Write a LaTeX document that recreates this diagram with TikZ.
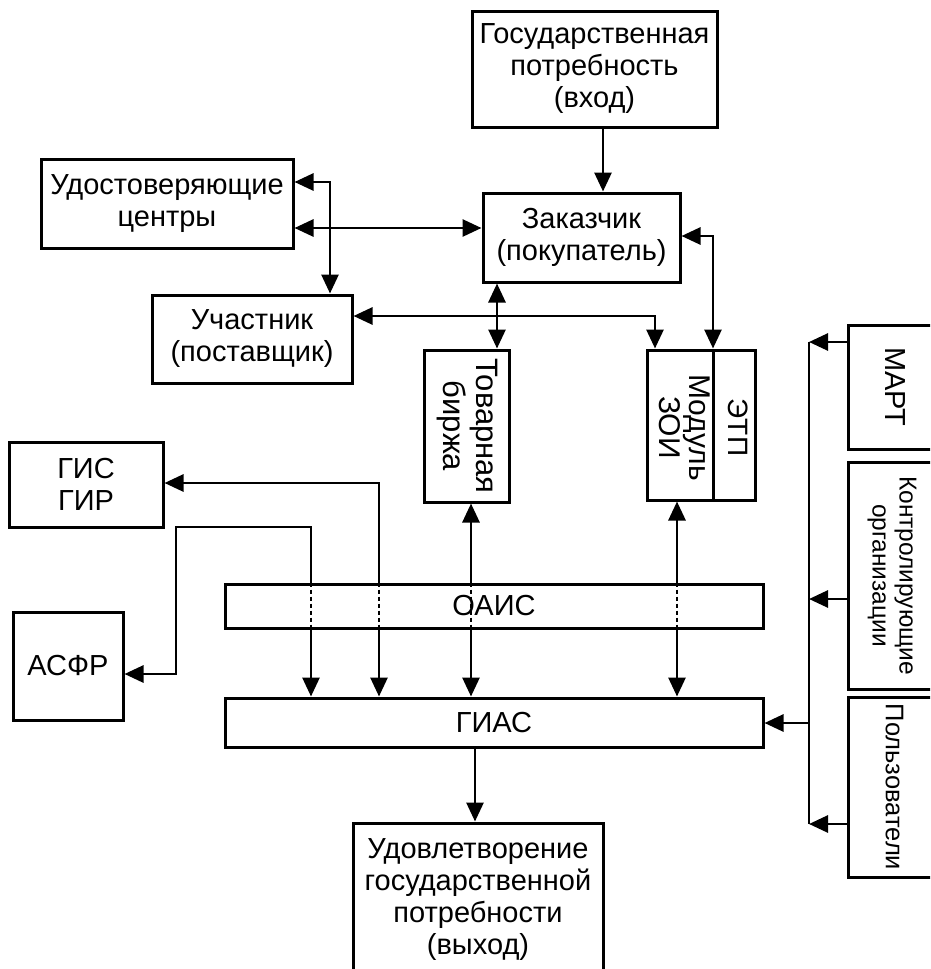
\documentclass[tikz,border=0pt]{standalone}
\usepackage{fontspec}
\setmainfont{Liberation Sans}
\usepackage{graphicx}
\usetikzlibrary{arrows.meta}
\newcommand\vlab[1]{\rotatebox{-90}{\begin{tabular}{@{}c@{}}#1\end{tabular}}}
\begin{document}
\begin{tikzpicture}[x=1pt,y=-1pt,
  >={Triangle[length=19pt,width=17pt]},
  box/.style={draw, line width=3pt, inner sep=1pt, align=center, font=\fontsize{29}{32}\selectfont},
  conn/.style={line width=2.8pt},
  dots/.style={line width=2.8pt, dash pattern=on 4pt off 3pt}]
\path[use as bounding box] (0,0) rectangle (930,969);
\clip (0,0) rectangle (930,969);
% boxes
\node[box, minimum width=245pt, minimum height=116pt] (gos) at (594.5,69) {Государственная\\потребность\\(вход)};
\node[box, minimum width=197pt, minimum height=89pt] (zak) at (581.5,237.5) {Заказчик\\(покупатель)};
\node[box, minimum width=252pt, minimum height=89pt] (uc) at (167,203.5) {Удостоверяющие\\центры};
\node[box, minimum width=200pt, minimum height=88pt] (uch) at (252,339) {Участник\\(поставщик)};
\node[box, minimum width=85pt, minimum height=152pt, font=\fontsize{31}{33}\selectfont] (birzha) at (466.5,426) {\vlab{Товарная\\биржа}};
\node[box, minimum width=66pt, minimum height=150pt, font=\fontsize{30}{30}\selectfont] (zoi) at (680,425) {\raisebox{-5pt}{\vlab{Модуль\\ЗОИ}}};
\node[box, minimum width=42pt, minimum height=150pt, font=\fontsize{28}{30}\selectfont] (etp) at (734,425) {\raisebox{-5pt}{\vlab{ЭТП}}};
\node[box, minimum width=154pt, minimum height=85pt] (gis) at (86,484.5) {ГИС\\ГИР};
\node[box, minimum width=110pt, minimum height=108pt] (asfr) at (68,666) {АСФР};
\node[box, minimum width=538pt, minimum height=44pt] (oais) at (494,606) {ОАИС};
\node[box, minimum width=538pt, minimum height=49pt] (gias) at (494,722.5) {ГИАС};
\node[box, minimum width=250pt, minimum height=154pt] (out) at (478,900) {Удовлетворение\\государственной\\потребности\\(выход)};
\node[box, minimum width=87pt, minimum height=124pt] (mart) at (891.5,387) {\vlab{МАРТ}};
\node[box, minimum width=87pt, minimum height=227pt, font=\fontsize{24.5}{27}\selectfont] (kontr) at (891.5,575.5) {\vlab{Контролирующие\\организации}};
\node[box, minimum width=87pt, minimum height=180pt, font=\fontsize{25.5}{28}\selectfont] (polz) at (891.5,787) {\vlab{Пользователи}};
% coordinates
\coordinate (xg) at (603,0);
\coordinate (k1) at (330,182);
\coordinate (k2) at (0,228);
\coordinate (k3) at (655,316);
\coordinate (k4) at (497,0);
\coordinate (k5) at (713,236);
\coordinate (k6) at (379,483);
\coordinate (k7) at (176,674);
\coordinate (k8) at (311,527);
\coordinate (k9) at (471,0);
\coordinate (k10) at (677,0);
\coordinate (bt) at (809,342);
\coordinate (bb) at (809,824);
\coordinate (k11) at (0,599);
\coordinate (k12) at (0,723);
\coordinate (k13) at (475,0);
% connectors
\draw[conn,->] (gos.south -| xg) -- (zak.north -| xg);
\draw[conn,<->] (uc.east |- k1) -- (k1) -- (uch.north -| k1);
\draw[conn,<->] (uc.east |- k2) -- (zak.west |- k2);
\draw[conn,<->] (uch.east |- k3) -- (k3) -- (zoi.north -| k3);
\draw[conn,<->] (zak.south -| k4) -- (birzha.north -| k4);
\draw[conn,<->] (zak.east |- k5) -- (k5) -- (etp.north -| k5);
% to GIS GIR
\draw[conn,<-] (gis.east |- k6) -- (k6) -- (oais.north -| k6);
\draw[dots] (oais.north -| k6) -- (oais.south -| k6);
\draw[conn,->] (oais.south -| k6) -- (gias.north -| k6);
% to ASFR
\draw[conn,<-] (asfr.east |- k7) -- (k7) -- (k7 |- k8) -- (k8) -- (oais.north -| k8);
\draw[dots] (oais.north -| k8) -- (oais.south -| k8);
\draw[conn,->] (oais.south -| k8) -- (gias.north -| k8);
% birzha
\draw[conn,<-] (birzha.south -| k9) -- (oais.north -| k9);
\draw[dots] (oais.north -| k9) -- (oais.south -| k9);
\draw[conn,->] (oais.south -| k9) -- (gias.north -| k9);
% ZOI
\draw[conn,<-] (zoi.south -| k10) -- (oais.north -| k10);
\draw[dots] (oais.north -| k10) -- (oais.south -| k10);
\draw[conn,->] (oais.south -| k10) -- (gias.north -| k10);
% right bus
\draw[conn] (bt) -- (bb);
\draw[conn,->] (mart.west |- bt) -- (bt);
\draw[conn,->] (kontr.west |- k11) -- (bt |- k11);
\draw[conn,->] (polz.west |- bb) -- (bb);
\draw[conn,->] (bt |- k12) -- (gias.east |- k12);
% output
\draw[conn,->] (gias.south -| k13) -- (out.north -| k13);
\end{tikzpicture}
\end{document}
